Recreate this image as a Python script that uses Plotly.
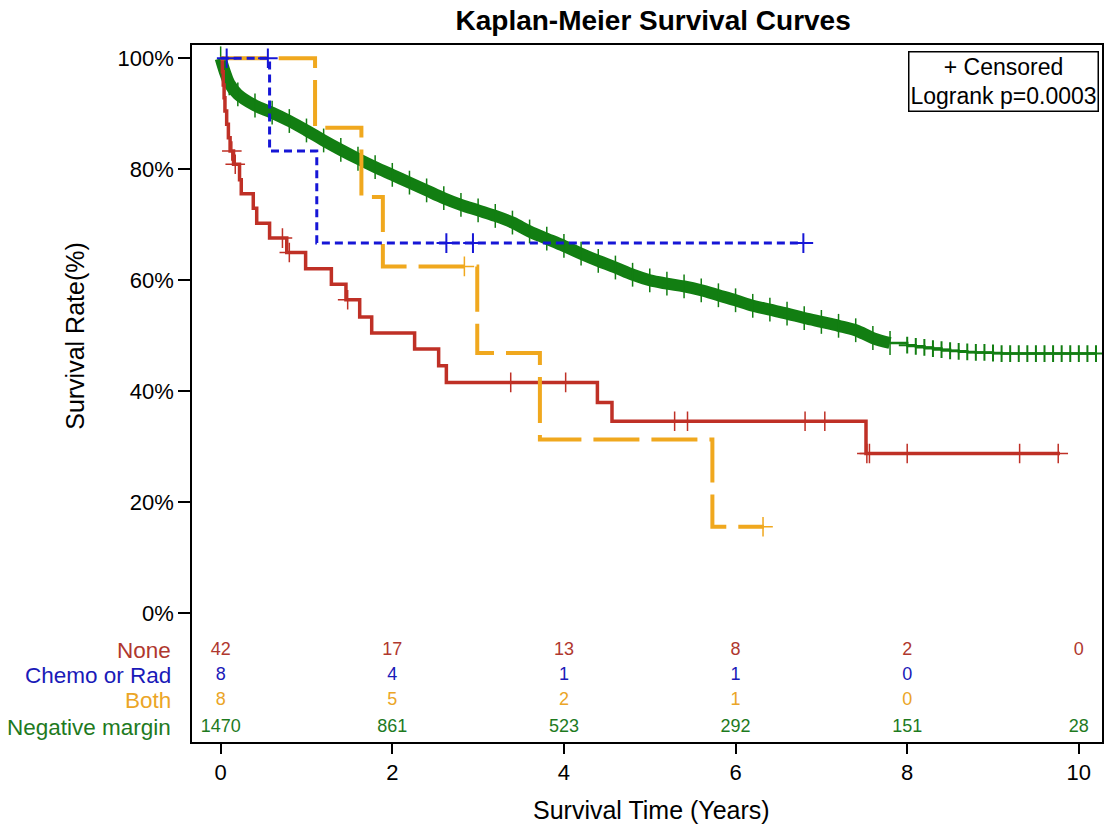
import plotly.graph_objects as go

# ---------------- data ----------------
# Kaplan-Meier step curves: event times (years) and survival (%) after each step
red_t = [0, 0.02, 0.03, 0.04, 0.05, 0.07, 0.09, 0.11, 0.15, 0.22, 0.24, 0.38, 0.42, 0.57,
         0.77, 0.99, 1.29, 1.46, 1.62, 1.76, 2.26, 2.54, 2.63, 4.39, 4.56, 7.52]
red_s = [100, 97.6, 95.2, 92.9, 90.5, 88.1, 85.7, 83.3, 80.9, 78.1, 75.6, 73.0, 70.3, 67.6,
         65.0, 62.1, 59.3, 56.5, 53.4, 50.5, 47.6, 44.6, 41.6, 38.0, 34.6, 28.8]
red_end = 9.78
red_cens = [0.13, 0.17, 0.72, 0.80, 1.48, 3.38, 4.02, 5.29, 5.44, 6.81, 7.04, 7.53, 7.56,
            8.00, 9.31, 9.76]

blue_t = [0, 0.57, 1.12]
blue_s = [100, 83.3, 66.7]
blue_end = 6.79
blue_cens = [0.07, 0.55, 2.63, 2.94, 6.79]

orng_t = [0, 1.10, 1.64, 1.89, 2.99, 3.72, 5.73]
orng_s = [100, 87.5, 75.0, 62.5, 46.9, 31.3, 15.6]
orng_end = 6.33
orng_cens = [2.84, 6.32]

grn_t = [0, 0.05, 0.1, 0.2, 0.4, 0.6, 0.8, 1.0, 1.2, 1.4, 1.6, 1.8, 2.0, 2.2, 2.4, 2.6,
         2.8, 3.0, 3.2, 3.4, 3.6, 3.8, 4.0, 4.2, 4.4, 4.6, 4.8, 5.0, 5.2, 5.4, 5.6, 5.8,
         6.0, 6.2, 6.4, 6.6, 6.8, 7.0, 7.2, 7.4, 7.6, 7.8, 8.0, 8.1, 8.2, 8.3, 8.4, 8.5,
         8.6, 8.7, 8.8, 8.9, 9.0, 9.1, 9.2, 9.3, 9.4, 9.5, 9.6, 9.7, 9.8, 9.9, 10.0, 10.1, 10.2]
grn_s = [100, 97.5, 95.5, 93.5, 91.5, 90.2, 88.7, 87.0, 85.2, 83.5, 81.9, 80.4, 79.0, 77.6,
         76.2, 74.8, 73.6, 72.6, 71.6, 70.4, 68.8, 67.5, 66.2, 64.8, 63.5, 62.3, 61.0, 60.0,
         59.4, 58.9, 58.2, 57.3, 56.4, 55.4, 54.7, 54.0, 53.2, 52.5, 51.8, 51.0, 49.6, 48.7,
         48.3, 48.1, 47.9, 47.7, 47.5, 47.3, 47.2, 47.1, 47.0, 47.0, 46.9, 46.8, 46.8, 46.8,
         46.8, 46.8, 46.8, 46.8, 46.8, 46.8, 46.8, 46.8, 46.8]
grn_end = 10.2
grn_band_until = 7.8

# numbers at risk
risk_times = [0, 2, 4, 6, 8, 10]
risk_none = [42, 17, 13, 8, 2, 0]
risk_chemo = [8, 4, 1, 1, 0]
risk_both = [8, 5, 2, 1, 0]
risk_neg = [1470, 861, 523, 292, 151, 28]

group_names = ["None", "Chemo or Rad", "Both", "Negative margin"]
x_ticks = [0, 2, 4, 6, 8, 10]
y_ticks = [0, 20, 40, 60, 80, 100]
y_ticklabels = ["0%", "20%", "40%", "60%", "80%", "100%"]

# ---------------- style ----------------
FONT = "Liberation Sans, Arial, sans-serif"
C_RED = "#BF3026"
C_BLUE = "#1616D6"
C_ORNG = "#F0A81E"
C_GRN = "#127E12"
T_RED = "#B0382E"
T_BLUE = "#1A1AB8"
T_ORNG = "#EBA526"
T_GRN = "#1E7A1E"


def step_value(ts, ss, x):
    v = ss[0]
    for t, s in zip(ts, ss):
        if t <= x:
            v = s
    return v


def curve(ts, ss, end):
    return list(ts) + [end], list(ss) + [ss[-1]]


fig = go.Figure()

# green: dense censoring forms a thick band up to ~7.8 years
nb = len([t for t in grn_t if t <= grn_band_until])
bx, by = grn_t[:nb], grn_s[:nb]
fig.add_trace(go.Scatter(x=bx, y=by, mode="lines", line=dict(color=C_GRN, width=12, shape="spline"),
                         hoverinfo="skip", showlegend=False))
fig.add_trace(go.Scatter(x=bx, y=by, mode="markers",
                         marker=dict(symbol="line-ns", size=17, line=dict(color=C_GRN, width=1.5)),
                         showlegend=False))
tx = grn_t[nb - 1:] + [grn_end]
ty = grn_s[nb - 1:] + [grn_s[-1]]
fig.add_trace(go.Scatter(x=tx, y=ty, mode="lines", line=dict(color=C_GRN, width=2.5, shape="hv"),
                         showlegend=False))
fig.add_trace(go.Scatter(x=grn_t[nb:], y=grn_s[nb:], mode="markers",
                         marker=dict(symbol="cross-thin", size=12, line=dict(color=C_GRN, width=2)),
                         showlegend=False))

# red
rx, ry = curve(red_t, red_s, red_end)
fig.add_trace(go.Scatter(x=rx, y=ry, mode="lines", line=dict(color=C_RED, width=3.5, shape="hv"),
                         showlegend=False))
fig.add_trace(go.Scatter(x=red_cens, y=[step_value(red_t, red_s, c) for c in red_cens], mode="markers",
                         marker=dict(symbol="cross-thin", size=14, line=dict(color=C_RED, width=1.5)),
                         showlegend=False))

# orange
ox, oy = curve(orng_t, orng_s, orng_end)
fig.add_trace(go.Scatter(x=ox, y=oy, mode="lines",
                         line=dict(color=C_ORNG, width=4, shape="hv", dash="46px,12px"),
                         showlegend=False))
fig.add_trace(go.Scatter(x=orng_cens, y=[step_value(orng_t, orng_s, c) for c in orng_cens], mode="markers",
                         marker=dict(symbol="cross-thin", size=14, line=dict(color=C_ORNG, width=1.5)),
                         showlegend=False))

# blue
bx2, by2 = curve(blue_t, blue_s, blue_end)
fig.add_trace(go.Scatter(x=bx2, y=by2, mode="lines",
                         line=dict(color=C_BLUE, width=3, shape="hv", dash="8px,5px"),
                         showlegend=False))
fig.add_trace(go.Scatter(x=blue_cens, y=[step_value(blue_t, blue_s, c) for c in blue_cens], mode="markers",
                         marker=dict(symbol="cross-thin", size=14, line=dict(color=C_BLUE, width=2)),
                         showlegend=False))

# at-risk table
row_y = [-6.8, -11.3, -15.8, -20.5]
risk_rows = [risk_none, risk_chemo, risk_both, risk_neg]
text_cols = [T_RED, T_BLUE, T_ORNG, T_GRN]
for vals, yy, col in zip(risk_rows, row_y, text_cols):
    fig.add_trace(go.Scatter(x=risk_times[:len(vals)], y=[yy] * len(vals), mode="text",
                             text=[str(v) for v in vals], textposition="middle center",
                             textfont=dict(family=FONT, size=18, color=col),
                             cliponaxis=False, showlegend=False, hoverinfo="skip"))

annotations = []
for name, yy, col in zip(group_names, row_y, text_cols):
    annotations.append(dict(x=0, xref="paper", y=yy, yref="y", xanchor="right", yanchor="middle",
                            xshift=-19, text=name, showarrow=False,
                            font=dict(family=FONT, size=22.5, color=col)))

annotations.append(dict(x=0.892, y=0.9476, xref="paper", yref="paper", xanchor="center",
                        yanchor="middle", showarrow=False, align="center",
                        text="+ Censored<br>Logrank p=0.0003",
                        font=dict(family=FONT, size=23, color="black"),
                        bordercolor="black", borderwidth=1.5, borderpad=1, bgcolor="white"))

annotations.append(dict(x=0, xref="paper", y=50, yref="y", xshift=-117, textangle=-90,
                        xanchor="center", yanchor="middle", showarrow=False,
                        text="Survival Rate(%)", font=dict(family=FONT, size=25, color="black")))
annotations.append(dict(x=0.505, xref="paper", y=0, yref="paper", yshift=-68,
                        xanchor="center", yanchor="middle", showarrow=False,
                        text="Survival Time (Years)", font=dict(family=FONT, size=25, color="black")))

fig.update_layout(
    width=1107, height=828,
    margin=dict(l=192, r=3, t=45, b=86),
    paper_bgcolor="white", plot_bgcolor="white",
    title=dict(text="<b>Kaplan-Meier Survival Curves</b>", x=0.59, xanchor="center",
               y=1 - 20 / 828, yanchor="middle", font=dict(family=FONT, size=28, color="black")),
    xaxis=dict(range=[-0.334, 10.27], tickvals=x_ticks, showgrid=False, zeroline=False,
               showline=True, linecolor="black", linewidth=1.5, mirror=True,
               ticks="outside", ticklen=10, tickwidth=1.5, tickcolor="black",
               tickfont=dict(family=FONT, size=22, color="black")),
    yaxis=dict(range=[-23.2, 102.4], tickvals=y_ticks, ticktext=y_ticklabels, showgrid=False,
               zeroline=False, showline=True, linecolor="black", linewidth=1.5, mirror=True,
               ticks="outside", ticklen=12, tickwidth=1.5, tickcolor="black",
               tickfont=dict(family=FONT, size=22, color="black")),
    annotations=annotations,
    font=dict(family=FONT),
)

fig.write_html("out.html", config={"displayModeBar": False},
               post_script="document.body.style.margin='0px';")
